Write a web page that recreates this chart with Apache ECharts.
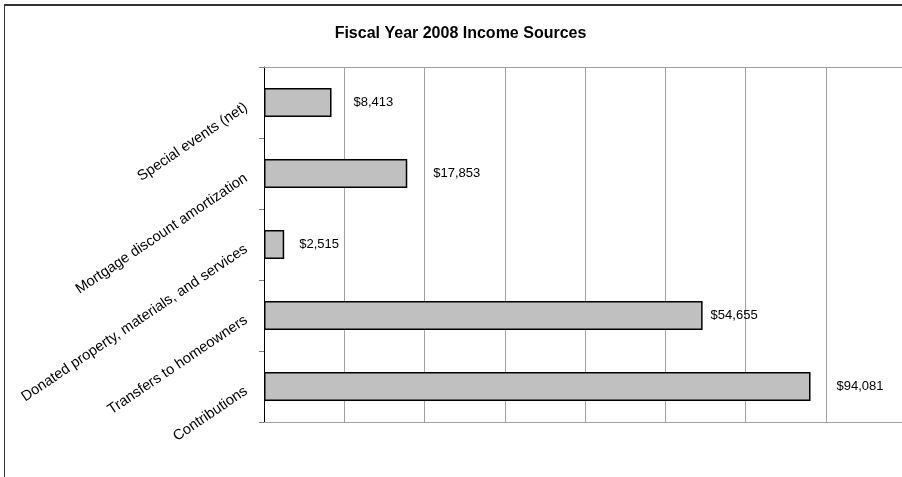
<!DOCTYPE html>
<html>
<head>
<meta charset="utf-8">
<script src="https://cdn.jsdelivr.net/npm/echarts@6/dist/echarts.min.js"></script>
<style>
  html, body { margin: 0; padding: 0; background: #fff; }
  #frame { position: absolute; left: 4px; top: 4px; width: 898px; height: 473px;
           border-top: 2px solid #333; border-left: 1.5px solid #333; box-sizing: border-box; }
  #chart { position: absolute; left: 0; top: 0; width: 902px; height: 477px; }
</style>
</head>
<body>
<div id="frame"></div>
<div id="chart"></div>
<script>
// Categories listed bottom-to-top as in the reference
const categories = [
  'Contributions',
  'Transfers to homeowners',
  'Donated property, materials, and services',
  'Mortgage discount amortization',
  'Special events (net)'
];
// Amounts printed in the data labels
const amounts = [94081, 54655, 2515, 17853, 8413];
// Bar lengths as drawn in the reference (the Contributions bar is drawn shorter than its label)
const barLengths = [68100, 54655, 2515, 17853, 8413];
const titleText = 'Fiscal Year 2008 Income Sources';

// label gap (px) between each bar end and its value label, as placed in the reference
const labelGaps = [26, 8, 15, 26, 22];

const chart = echarts.init(document.getElementById('chart'), null, { renderer: 'canvas' });
const font = '"Liberation Sans", Arial, sans-serif';

const seriesData = barLengths.map(function (v, i) {
  return { value: v, label: { distance: labelGaps[i] } };
});

chart.setOption({
  animation: false,
  backgroundColor: 'transparent',
  title: {
    text: titleText,
    left: 455.5,
    top: 21,
    textAlign: 'center',
    textStyle: { fontFamily: font, fontSize: 16, fontWeight: 'bold', color: '#000' }
  },
  grid: { left: 264, right: 0, top: 67, bottom: 55, containLabel: false },
  xAxis: [
    {
      type: 'value',
      min: 0,
      max: 79500,
      interval: 10000,
      position: 'bottom',
      axisLine: { show: true, lineStyle: { color: '#a0a0a0', width: 1 } },
      axisTick: { show: false },
      axisLabel: { show: false },
      splitLine: { show: true, showMinLine: false, showMaxLine: false, lineStyle: { color: '#a0a0a0', width: 1 } }
    },
    {
      type: 'value',
      min: 0,
      max: 79500,
      interval: 10000,
      position: 'top',
      axisLine: { show: true, lineStyle: { color: '#a0a0a0', width: 1 } },
      axisTick: { show: false },
      axisLabel: { show: false },
      splitLine: { show: false }
    }
  ],
  yAxis: {
    type: 'category',
    data: categories,
    axisLine: { show: true, lineStyle: { color: '#000', width: 1 } },
    axisTick: { show: true, length: 5, lineStyle: { color: '#808080', width: 1 } },
    axisLabel: {
      rotate: 34,
      margin: 13,
      padding: [16, 6, 0, 0],
      fontFamily: font,
      fontSize: 14.6,
      color: '#000'
    },
    splitLine: { show: false }
  },
  series: [{
    type: 'bar',
    xAxisIndex: 0,
    data: seriesData,
    barWidth: '41%',
    itemStyle: { color: '#c0c0c0', borderColor: '#000', borderWidth: 1.5 },
    label: {
      show: true,
      position: 'right',
      fontFamily: font,
      fontSize: 13,
      color: '#000',
      formatter: function (p) { return '$' + amounts[p.dataIndex].toLocaleString('en-US'); }
    }
  }]
});
</script>
</body>
</html>
